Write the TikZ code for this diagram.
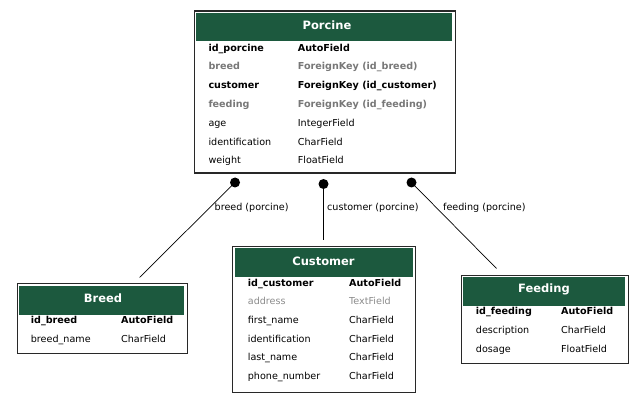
\documentclass[tikz,border=0pt]{standalone}
\usepackage{fontspec}
\setmainfont{DejaVu Sans}
\usetikzlibrary{positioning}
\definecolor{hdrgreen}{RGB}{28,89,62}
\definecolor{boxedge}{RGB}{40,40,40}
\definecolor{fkgray}{RGB}{120,120,120}
\definecolor{lightgray}{RGB}{140,140,140}
\tikzset{
  tablebox/.style={draw=boxedge, line width=1.3pt, fill=white, inner sep=0pt, anchor=north west},
  hdrbox/.style={fill=hdrgreen, inner sep=0pt, anchor=north west},
  hdrtext/.style={text=white, font=\fontsize{11.5}{12}\selectfont\bfseries, inner sep=0pt},
  cell/.style={font=\fontsize{9.6}{10}\selectfont, inner sep=0pt, anchor=west, text height=7pt, text depth=1.9pt},
  keycell/.style={cell, font=\fontsize{9.6}{10}\selectfont\bfseries},
  fkcell/.style={keycell, text=fkgray},
  optcell/.style={cell, text=lightgray},
  reldot/.style={circle, fill=black, inner sep=0pt, minimum size=10pt},
  relline/.style={draw=black, line width=0.7pt},
  rellabel/.style={font=\fontsize{9.6}{10}\selectfont, inner sep=0pt, anchor=west, text height=7pt, text depth=1.9pt}
}
\begin{document}
\begin{tikzpicture}[x=1pt,y=-1pt]
\useasboundingbox (0,0) rectangle (643,401);

% ---------- Porcine ----------
\node[tablebox, minimum width=261pt, minimum height=162pt] (porcine) at (193.5,10.5) {};
\node[hdrbox, minimum width=256pt, minimum height=28.5pt] (porcineh) at (196,12.5) {};
\node[hdrtext] (porcinet) at (327,25) {Porcine};
\node[keycell] (p1n) at (208.3,48.5) {id\_porcine};
\node[keycell] (p1t) at (297.7,48.5) {AutoField};
\node[fkcell] (p2n) at (208.3,67.3) {breed};
\node[fkcell] (p2t) at (297.7,67.3) {ForeignKey (id\_breed)};
\node[keycell] (p3n) at (208.3,86.1) {customer};
\node[keycell] (p3t) at (297.7,86.1) {ForeignKey (id\_customer)};
\node[fkcell] (p4n) at (208.3,104.9) {feeding};
\node[fkcell] (p4t) at (297.7,104.9) {ForeignKey (id\_feeding)};
\node[cell] (p5n) at (208.3,123.7) {age};
\node[cell] (p5t) at (297.7,123.7) {IntegerField};
\node[cell] (p6n) at (208.3,142.5) {identification};
\node[cell] (p6t) at (297.7,142.5) {CharField};
\node[cell] (p7n) at (208.3,161.3) {weight};
\node[cell] (p7t) at (297.7,161.3) {FloatField};

% ---------- Breed ----------
\node[tablebox, minimum width=170pt, minimum height=69.5pt] (breed) at (16.5,283) {};
\node[hdrbox, minimum width=165pt, minimum height=29pt] (breedh) at (19,285.3) {};
\node[hdrtext] (breedt) at (103,298) {Breed};
\node[keycell] (b1n) at (30.7,321.3) {id\_breed};
\node[keycell] (b1t) at (121,321.3) {AutoField};
\node[cell] (b2n) at (30.7,340) {breed\_name};
\node[cell] (b2t) at (121,340) {CharField};

% ---------- Customer ----------
\node[tablebox, minimum width=183pt, minimum height=146pt] (customer) at (232,245.5) {};
\node[hdrbox, minimum width=178pt, minimum height=28.5pt] (customerh) at (234.5,247.8) {};
\node[hdrtext] (customert) at (323.5,261.5) {Customer};
\node[keycell] (c1n) at (247.7,283.6) {id\_customer};
\node[keycell] (c1t) at (349,283.6) {AutoField};
\node[optcell] (c2n) at (247.7,302.3) {address};
\node[optcell] (c2t) at (349,302.3) {TextField};
\node[cell] (c3n) at (247.7,321) {first\_name};
\node[cell] (c3t) at (349,321) {CharField};
\node[cell] (c4n) at (247.7,339.6) {identification};
\node[cell] (c4t) at (349,339.6) {CharField};
\node[cell] (c5n) at (247.7,358.3) {last\_name};
\node[cell] (c5t) at (349,358.3) {CharField};
\node[cell] (c6n) at (247.7,377) {phone\_number};
\node[cell] (c6t) at (349,377) {CharField};

% ---------- Feeding ----------
\node[tablebox, minimum width=167pt, minimum height=88pt] (feeding) at (460.5,274.5) {};
\node[hdrbox, minimum width=162pt, minimum height=28.5pt] (feedingh) at (463,276.8) {};
\node[hdrtext] (feedingt) at (544,289.5) {Feeding};
\node[keycell] (f1n) at (475.7,312.4) {id\_feeding};
\node[keycell] (f1t) at (561,312.4) {AutoField};
\node[cell] (f2n) at (475.7,331) {description};
\node[cell] (f2t) at (561,331) {CharField};
\node[cell] (f3n) at (475.7,349.8) {dosage};
\node[cell] (f3t) at (561,349.8) {FloatField};

% ---------- Relations ----------
\node[reldot] (d1) at (235,182.5) {};
\node[reldot] (d2) at (323.5,184) {};
\node[reldot] (d3) at (411.5,182.5) {};
\coordinate (e1) at (139.5,277.5);
\coordinate (e2) at (323.5,240);
\coordinate (e3) at (496.5,268.5);
\draw[relline] (d1.center) -- (e1);
\draw[relline] (d2.center) -- (e2);
\draw[relline] (d3.center) -- (e3);
\node[rellabel] (l1) at (214.5,208.3) {breed (porcine)};
\node[rellabel] (l2) at (327,208.3) {customer (porcine)};
\node[rellabel] (l3) at (443,208.3) {feeding (porcine)};
\end{tikzpicture}
\end{document}
